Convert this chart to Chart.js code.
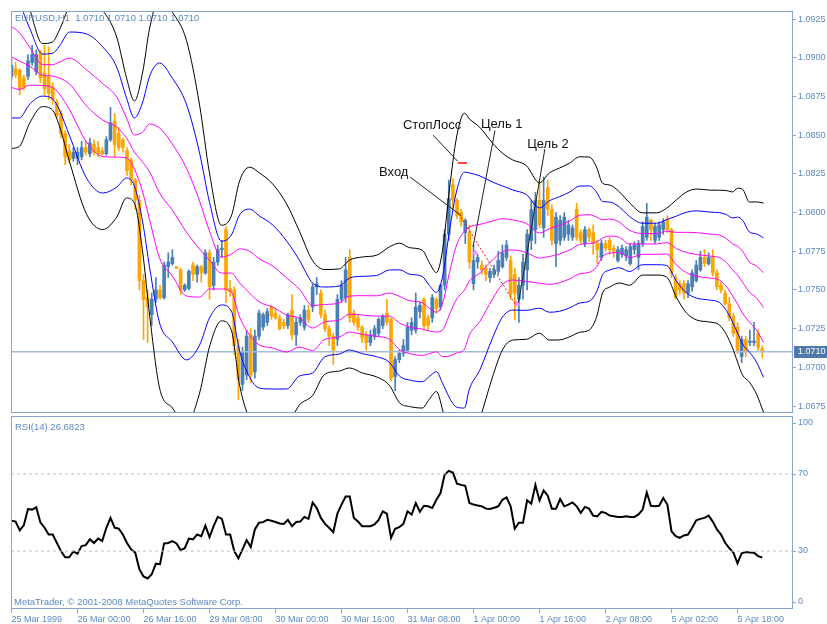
<!DOCTYPE html>
<html>
<head>
<meta charset="utf-8">
<script src="https://cdn.jsdelivr.net/npm/chart.js@4.4.0/dist/chart.umd.min.js"></script>
<style>
html, body { margin: 0; padding: 0; background: #fff; }
#wrap { position: relative; width: 827px; height: 624px; overflow: hidden; }
#main { position: absolute; left: 0; top: 0; }
#rsi { position: absolute; left: 0; top: 415px; }
</style>
</head>
<body>
<div id="wrap">
<canvas id="main" width="827" height="415"></canvas>
<canvas id="rsi" width="827" height="209"></canvas>
</div>
<script>
// EURUSD H1 candles, one per bar
const opens = [1.0888,1.0893,1.0892,1.0887,1.0888,1.0897,1.0891,1.0903,1.0890,1.0888,
1.0881,1.0871,1.0864,1.0851,1.0840,1.0835,1.0835,1.0836,1.0842,1.0838,
1.0844,1.0842,1.0840,1.0838,1.0847,1.0859,1.0851,1.0847,1.0840,1.0834,
1.0821,1.0808,1.0756,1.0745,1.0734,1.0744,1.0750,1.0745,1.0765,1.0767,
1.0765,1.0763,1.0750,1.0751,1.0766,1.0760,1.0765,1.0761,1.0774,1.0753,
1.0768,1.0776,1.0789,1.0751,1.0750,1.0714,1.0689,1.0695,1.0721,1.0697,
1.0720,1.0726,1.0729,1.0739,1.0735,1.0732,1.0729,1.0727,1.0737,1.0721,
1.0729,1.0726,1.0737,1.0739,1.0752,1.0748,1.0734,1.0725,1.0720,1.0718,
1.0744,1.0745,1.0771,1.0735,1.0732,1.0726,1.0721,1.0716,1.0720,1.0722,
1.0727,1.0735,1.0731,1.0694,1.0705,1.0709,1.0711,1.0724,1.0724,1.0736,
1.0744,1.0732,1.0732,1.0744,1.0739,1.0753,1.0786,1.0818,1.0808,1.0800,
1.0787,1.0787,1.0754,1.0768,1.0766,1.0764,1.0758,1.0760,1.0762,1.0765,
1.0771,1.0769,1.0760,1.0744,1.0753,1.0763,1.0782,1.0789,1.0808,1.0790,
1.0816,1.0802,1.0780,1.0782,1.0784,1.0786,1.0784,1.0802,1.0787,1.0780,
1.0789,1.0787,1.0780,1.0771,1.0780,1.0782,1.0777,1.0769,1.0773,1.0772,
1.0767,1.0776,1.0771,1.0780,1.0784,1.0795,1.0782,1.0784,1.0789,1.0796,
1.0789,1.0758,1.0754,1.0754,1.0748,1.0752,1.0756,1.0763,1.0771,1.0767,
1.0771,1.0761,1.0753,1.0748,1.0741,1.0733,1.0726,1.0707,1.0718,1.0716,
1.0716,1.0722,1.0712]
const highs = [1.0899,1.0897,1.0893,1.0889,1.0902,1.0908,1.0905,1.0905,1.0908,1.0907,
1.0884,1.0873,1.0866,1.0853,1.0844,1.0842,1.0842,1.0846,1.0846,1.0848,
1.0847,1.0846,1.0842,1.0849,1.0868,1.0864,1.0855,1.0848,1.0842,1.0835,
1.0822,1.0811,1.0760,1.0750,1.0748,1.0758,1.0753,1.0768,1.0774,1.0776,
1.0765,1.0764,1.0754,1.0763,1.0768,1.0766,1.0766,1.0776,1.0776,1.0771,
1.0779,1.0782,1.0791,1.0756,1.0752,1.0718,1.0713,1.0724,1.0725,1.0724,
1.0737,1.0735,1.0738,1.0740,1.0738,1.0734,1.0731,1.0735,1.0747,1.0732,
1.0734,1.0740,1.0740,1.0754,1.0758,1.0750,1.0737,1.0727,1.0722,1.0747,
1.0756,1.0771,1.0776,1.0737,1.0734,1.0727,1.0723,1.0724,1.0727,1.0732,
1.0734,1.0744,1.0732,1.0707,1.0711,1.0718,1.0729,1.0732,1.0748,1.0742,
1.0745,1.0734,1.0747,1.0745,1.0754,1.0789,1.0821,1.0822,1.0809,1.0802,
1.0796,1.0792,1.0779,1.0773,1.0769,1.0766,1.0764,1.0766,1.0775,1.0779,
1.0782,1.0772,1.0764,1.0758,1.0773,1.0789,1.0808,1.0813,1.0821,1.0823,
1.0821,1.0805,1.0800,1.0798,1.0800,1.0795,1.0792,1.0806,1.0789,1.0791,
1.0790,1.0792,1.0782,1.0782,1.0782,1.0784,1.0779,1.0778,1.0779,1.0778,
1.0780,1.0781,1.0782,1.0794,1.0806,1.0796,1.0793,1.0794,1.0796,1.0798,
1.0790,1.0760,1.0756,1.0756,1.0756,1.0763,1.0769,1.0775,1.0776,1.0774,
1.0776,1.0763,1.0755,1.0750,1.0745,1.0735,1.0729,1.0720,1.0720,1.0724,
1.0729,1.0724,1.0714]
const lows = [1.0886,1.0887,1.0876,1.0879,1.0886,1.0895,1.0889,1.0884,1.0876,1.0873,
1.0870,1.0861,1.0848,1.0831,1.0832,1.0833,1.0831,1.0834,1.0837,1.0836,
1.0837,1.0836,1.0837,1.0837,1.0846,1.0836,1.0840,1.0839,1.0824,1.0818,
1.0802,1.0750,1.0718,1.0716,1.0727,1.0742,1.0744,1.0744,1.0758,1.0766,
1.0764,1.0747,1.0749,1.0750,1.0756,1.0755,1.0755,1.0760,1.0744,1.0750,
1.0766,1.0771,1.0742,1.0746,1.0708,1.0679,1.0685,1.0692,1.0690,1.0693,
1.0718,1.0724,1.0727,1.0731,1.0731,1.0724,1.0725,1.0725,1.0718,1.0714,
1.0727,1.0724,1.0729,1.0736,1.0747,1.0732,1.0723,1.0714,1.0702,1.0714,
1.0742,1.0742,1.0729,1.0727,1.0724,1.0716,1.0711,1.0714,1.0718,1.0720,
1.0725,1.0727,1.0691,1.0685,1.0703,1.0707,1.0710,1.0721,1.0722,1.0732,
1.0724,1.0724,1.0729,1.0735,1.0737,1.0750,1.0782,1.0802,1.0796,1.0791,
1.0780,1.0764,1.0750,1.0764,1.0760,1.0756,1.0755,1.0758,1.0760,1.0764,
1.0769,1.0744,1.0731,1.0729,1.0744,1.0750,1.0776,1.0780,1.0790,1.0784,
1.0798,1.0779,1.0765,1.0779,1.0782,1.0782,1.0782,1.0782,1.0780,1.0778,
1.0781,1.0773,1.0767,1.0769,1.0775,1.0773,1.0771,1.0768,1.0771,1.0769,
1.0766,1.0773,1.0763,1.0778,1.0782,1.0782,1.0780,1.0782,1.0786,1.0787,
1.0758,1.0744,1.0747,1.0744,1.0745,1.0749,1.0755,1.0762,1.0765,1.0766,
1.0759,1.0750,1.0748,1.0740,1.0730,1.0720,1.0709,1.0703,1.0707,1.0714,
1.0714,1.0711,1.0706]
const closes = [1.0895,1.0889,1.0880,1.0881,1.0898,1.0902,1.0902,1.0887,1.0880,1.0877,
1.0873,1.0863,1.0851,1.0836,1.0834,1.0839,1.0839,1.0842,1.0839,1.0845,
1.0839,1.0838,1.0838,1.0847,1.0858,1.0844,1.0842,1.0842,1.0827,1.0821,
1.0808,1.0756,1.0744,1.0739,1.0744,1.0750,1.0745,1.0766,1.0768,1.0771,
1.0764,1.0750,1.0753,1.0762,1.0760,1.0765,1.0761,1.0774,1.0752,1.0768,
1.0776,1.0777,1.0750,1.0749,1.0714,1.0692,1.0710,1.0720,1.0695,1.0720,
1.0735,1.0734,1.0736,1.0733,1.0732,1.0725,1.0727,1.0734,1.0721,1.0729,
1.0732,1.0737,1.0731,1.0752,1.0754,1.0734,1.0725,1.0720,1.0711,1.0744,
1.0753,1.0763,1.0732,1.0729,1.0726,1.0719,1.0716,1.0721,1.0725,1.0731,
1.0733,1.0729,1.0693,1.0705,1.0709,1.0714,1.0726,1.0729,1.0739,1.0740,
1.0727,1.0727,1.0745,1.0738,1.0753,1.0786,1.0809,1.0808,1.0798,1.0794,
1.0795,1.0768,1.0769,1.0771,1.0763,1.0760,1.0762,1.0763,1.0769,1.0774,
1.0779,1.0747,1.0748,1.0753,1.0768,1.0786,1.0802,1.0808,1.0792,1.0808,
1.0802,1.0782,1.0797,1.0795,1.0797,1.0792,1.0790,1.0784,1.0782,1.0789,
1.0784,1.0780,1.0776,1.0780,1.0777,1.0776,1.0775,1.0776,1.0777,1.0776,
1.0778,1.0779,1.0780,1.0791,1.0797,1.0789,1.0791,1.0792,1.0794,1.0789,
1.0761,1.0745,1.0750,1.0748,1.0754,1.0761,1.0766,1.0771,1.0767,1.0771,
1.0761,1.0752,1.0750,1.0741,1.0732,1.0722,1.0711,1.0718,1.0710,1.0717,
1.0717,1.0713,1.0710]

// Bollinger bands: bar position, middle line, one deviation
const bandBar = [0,1.9,4.4,7.5,9.9,11.6,14.1,18.2,22.1,25.5,27.9,29.8,31.8,33.5,35.9,39.0,42.4,45.6,48.0,50.9,
53.3,55.3,57.7,60.1,63.3,66.7,69.8,73.0,75.9,79.5,81.9,85.1,88.5,91.6,94.1,96.5,99.6,101.3,103.0,104.5,
106.2,107.9,109.8,111.0,113.5,116.6,119.0,121.5,124.8,128.0,130.4,132.8,135.3,137.7,140.1,141.8,143.3,145.0,147.4,149.8,
153.0,156.4,158.8,161.2,163.6,166.1,169.2,171.6,173.3,174.8,176.0,177.2,178.9,180.6,182.3]
const bandMid = [1.09005,1.08979,1.08946,1.08888,1.08882,1.08869,1.08830,1.08688,1.08598,1.08552,
1.08481,1.08391,1.08326,1.08262,1.08126,1.08016,1.07874,1.07764,1.07693,1.07609,
1.07609,1.07545,1.07480,1.07422,1.07390,1.07338,1.07318,1.07254,1.07293,1.07306,
1.07344,1.07338,1.07331,1.07331,1.07286,1.07260,1.07247,1.07235,1.07228,1.07241,
1.07344,1.07441,1.07499,1.07558,1.07609,1.07693,1.07748,1.07758,1.07742,1.07706,
1.07716,1.07732,1.07758,1.07793,1.07800,1.07809,1.07835,1.07848,1.07839,1.07797,
1.07797,1.07797,1.07806,1.07767,1.07742,1.07729,1.07719,1.07709,1.07677,1.07629,
1.07596,1.07551,1.07486,1.07448,1.07386]
const bandDev = [0.00197,0.00184,0.00123,0.00068,0.00073,0.00103,0.00168,0.00233,0.00236,0.00194,
0.00129,0.00110,0.00194,0.00310,0.00420,0.00426,0.00413,0.00310,0.00187,0.00103,
0.00123,0.00220,0.00271,0.00278,0.00265,0.00239,0.00187,0.00145,0.00113,0.00110,
0.00116,0.00125,0.00131,0.00149,0.00172,0.00171,0.00170,0.00147,0.00128,0.00172,
0.00271,0.00349,0.00381,0.00349,0.00314,0.00252,0.00212,0.00194,0.00187,0.00162,
0.00180,0.00185,0.00187,0.00189,0.00186,0.00162,0.00118,0.00110,0.00098,0.00089,
0.00067,0.00067,0.00074,0.00105,0.00130,0.00141,0.00142,0.00145,0.00155,0.00168,
0.00187,0.00200,0.00194,0.00207,0.00225]
const bandMult = [3, 2, 1, 0, -1, -2, -3]
const bandColor = ['#000000', '#0000ff', '#ff00ff', '#ff00ff', '#ff00ff', '#0000ff', '#000000']

// RSI(14), one per bar
const rsi = [45.8,45.3,40.7,43.5,51.8,51.5,52.7,44.9,42.2,38.6,
38.6,34.2,30.0,26.8,26.8,29.8,28.7,32.6,33.1,36.1,
34.2,36.5,35.2,42.1,47.2,42.1,41.6,38.6,34.2,30.9,
29.2,20.6,16.9,15.8,18.0,23.5,23.2,34.0,34.2,35.2,
34.0,30.5,31.5,36.5,36.1,38.6,37.7,43.2,37.2,42.9,
47.7,46.7,38.6,38.6,30.0,26.3,30.9,35.7,32.1,41.2,
44.7,45.0,46.2,45.7,45.1,44.3,44.1,46.2,42.9,45.1,
45.3,47.7,46.7,55.2,52.3,47.2,44.1,42.1,39.8,49.4,
54.1,58.3,58.3,47.2,45.3,42.9,42.9,42.9,43.8,46.2,
50.6,49.4,36.9,41.6,42.4,44.1,50.6,48.9,54.9,50.4,
53.5,53.2,52.3,56.6,60.1,69.5,71.6,70.7,64.9,64.3,
63.8,54.9,54.1,53.6,53.2,52.0,51.8,52.5,53.2,56.6,
57.8,53.2,41.6,44.7,44.7,56.3,54.6,64.3,56.3,61.4,
58.7,52.0,52.0,57.0,53.2,54.1,55.2,53.2,49.8,52.9,
52.0,48.4,48.0,50.3,49.8,48.4,48.1,47.7,47.7,48.0,
47.7,47.7,49.0,51.5,60.4,53.5,53.2,53.5,57.5,54.1,
40.3,37.7,36.9,38.1,38.6,42.1,46.0,46.7,47.2,48.4,
45.3,41.2,38.6,34.3,31.5,29.2,23.7,28.8,29.5,29.3,
29.2,27.4,26.7]
const rsiLevels = [30, 70]
const rsiTicks = [0, 30, 70, 100]

const priceTicks = [1.0675, 1.0700, 1.0725, 1.0750, 1.0775, 1.0800, 1.0825, 1.0850, 1.0875, 1.0900, 1.0925]
const timeBars = [0, 16, 32, 48, 64, 80, 96, 112, 128, 144, 160, 176]
const timeLabels = ['25 Mar 1999', '26 Mar 00:00', '26 Mar 16:00', '29 Mar 08:00', '30 Mar 00:00', '30 Mar 16:00',
  '31 Mar 08:00', '1 Apr 00:00', '1 Apr 16:00', '2 Apr 08:00', '5 Apr 02:00', '5 Apr 18:00']

// hand drawn marks on the chart
const noteText = ['СтопЛосс', 'Вход', 'Цель 1', 'Цель 2']
const noteBar = [94.9, 89.1, 113.8, 125.0]
const notePrice = [1.0856, 1.0826, 1.0857, 1.0844]
const pointerBar = [[102.2, 108.2], [96.6, 109.0], [117.2, 111.9], [129.3, 122.8]]
const pointerPrice = [[1.0850, 1.0833], [1.0823, 1.0798], [1.0853, 1.0778], [1.0841, 1.0740]]
const tradeBar = [109.0, 122.3]
const tradePrice = [1.0797, 1.0740]
const stopBar = [108.2, 110.4]
const stopPrice = 1.0832
const hitBar = [112.4, 122.5]
const hitPrice = [1.0774, 1.0741]

const xMin = -0.12, xMax = 189.45
const axisColor = '#86a6cf'
const textColor = '#5d89c2'
const upColor = '#4a7fb5'
const downColor = '#ffa500'
const fontFamily = "'Liberation Sans', Arial, sans-serif"
const last = closes.length - 1

Chart.defaults.font.family = fontFamily
Chart.defaults.font.size = 9
Chart.defaults.color = textColor

const isUp = i => closes[i] >= opens[i]
const candleColor = ctx => isUp(ctx.dataIndex) ? upColor : downColor

const mainDatasets = [
  {
    type: 'bar', data: opens.map((o, i) => ({x: i, y: [lows[i], highs[i]]})),
    backgroundColor: candleColor, barThickness: 1, grouped: false, order: 20
  },
  {
    type: 'bar', data: opens.map((o, i) => ({x: i, y: [o, closes[i]]})),
    backgroundColor: candleColor, barThickness: 3, minBarLength: 1, grouped: false, order: 19
  },
  {
    type: 'line', data: [{x: xMin, y: closes[last]}, {x: xMax, y: closes[last]}],
    borderColor: '#a3bcda', borderWidth: 1.5, pointRadius: 0, order: 18
  }
]
bandMult.forEach((k, j) => {
  mainDatasets.push({
    type: 'line',
    data: bandBar.map((b, n) => ({x: b, y: bandMid[n] + k * bandDev[n]})),
    borderColor: bandColor[j], borderWidth: 1, pointRadius: 0,
    cubicInterpolationMode: 'monotone', order: 5
  })
})
pointerBar.forEach((b, j) => {
  mainDatasets.push({
    type: 'line',
    data: [{x: b[0], y: pointerPrice[j][0]}, {x: b[1], y: pointerPrice[j][1]}],
    borderColor: '#222', borderWidth: 1, pointRadius: 0, order: 2
  })
})
mainDatasets.push({
  type: 'line', data: tradeBar.map((b, n) => ({x: b, y: tradePrice[n]})),
  borderColor: '#ff0000', borderWidth: 1, borderDash: [2, 2], pointRadius: 0, order: 1
})
mainDatasets.push({
  type: 'line', data: stopBar.map(b => ({x: b, y: stopPrice})),
  borderColor: '#ff0000', borderWidth: 1.5, pointRadius: 0, order: 1
})
mainDatasets.push({
  type: 'line', data: hitBar.map((b, n) => ({x: b, y: hitPrice[n]})), showLine: false,
  pointStyle: 'triangle', pointRadius: 3, pointBackgroundColor: '#ff8cff', pointBorderColor: '#ff8cff', order: 1
})

const frame = {
  id: 'frame',
  afterDraw(chart) {
    const {ctx, chartArea: a} = chart
    ctx.save()
    ctx.strokeStyle = axisColor
    ctx.lineWidth = 1
    ctx.strokeRect(a.left + 0.5, a.top + 0.5, a.right - a.left - 1, a.bottom - a.top - 1)
    ctx.restore()
  }
}

const mainText = {
  id: 'mainText',
  afterDraw(chart) {
    const {ctx, scales: {x, y}} = chart
    ctx.save()
    ctx.textBaseline = 'middle'
    ctx.textAlign = 'left'
    ctx.font = '13px ' + fontFamily
    ctx.fillStyle = '#111'
    noteText.forEach((t, j) => ctx.fillText(t, x.getPixelForValue(noteBar[j]), y.getPixelForValue(notePrice[j])))
    ctx.font = '9.5px ' + fontFamily
    ctx.fillStyle = textColor
    ctx.fillText('EURUSD,H1  1.0710 1.0710 1.0710 1.0710', 15, 18)
    // current price box on the right axis
    const py = Math.round(y.getPixelForValue(closes[last]))
    ctx.fillStyle = '#4f79a9'
    ctx.fillRect(794, py - 6, 33, 12)
    ctx.fillStyle = '#ffffff'
    ctx.font = '9px ' + fontFamily
    ctx.fillText(closes[last].toFixed(4), 798, py)
    ctx.restore()
  }
}

new Chart(document.getElementById('main'), {
  type: 'bar',
  data: {datasets: mainDatasets},
  options: {
    responsive: false, animation: false, events: [],
    layout: {autoPadding: false, padding: {left: 11, top: 11, right: 0, bottom: 2}},
    plugins: {legend: {display: false}, tooltip: {enabled: false}},
    scales: {
      x: {
        type: 'linear', min: xMin, max: xMax, offset: false, display: false,
        ticks: {display: false}, grid: {display: false},
        afterFit: s => { s.height = 0; s.paddingLeft = 0; s.paddingRight = 0 }
      },
      y: {
        type: 'linear', position: 'right', min: 1.06705, max: 1.09302,
        afterBuildTicks: s => { s.ticks = priceTicks.map(v => ({value: v})) },
        afterFit: s => { s.width = 34; s.paddingTop = 0; s.paddingBottom = 0 },
        ticks: {callback: v => v.toFixed(4), padding: 2, color: textColor},
        grid: {drawOnChartArea: false, tickLength: 3, color: axisColor},
        border: {display: false}
      }
    }
  },
  plugins: [frame, mainText]
})

const rsiText = {
  id: 'rsiText',
  afterDraw(chart) {
    const {ctx, chartArea: a, scales: {y}} = chart
    ctx.save()
    ctx.textBaseline = 'middle'
    ctx.textAlign = 'left'
    ctx.font = '9.5px ' + fontFamily
    ctx.fillStyle = textColor
    ctx.fillText('RSI(14) 26.6823', 15, 12)
    ctx.fillText('MetaTrader, © 2001-2008 MetaQuotes Software Corp.', 14, 187)
    // level labels on the right, kept inside the panel
    ctx.font = '9px ' + fontFamily
    ctx.strokeStyle = axisColor
    ctx.lineWidth = 1
    rsiTicks.forEach(v => {
      const py = Math.round(Math.min(Math.max(y.getPixelForValue(v), a.top + 7), a.bottom - 7))
      ctx.beginPath()
      ctx.moveTo(a.right, py + 0.5)
      ctx.lineTo(a.right + 3, py + 0.5)
      ctx.stroke()
      ctx.fillText(String(v), a.right + 5, py)
    })
    ctx.restore()
  }
}

const rsiDatasets = rsiLevels.map(v => ({
  type: 'line', data: [{x: xMin, y: v}, {x: xMax, y: v}],
  borderColor: '#c4c4c4', borderWidth: 1, borderDash: [3, 3], pointRadius: 0
}))
rsiDatasets.push({
  type: 'line', data: rsi.map((v, i) => ({x: i, y: v})),
  borderColor: '#000000', borderWidth: 2, pointRadius: 0, tension: 0
})

new Chart(document.getElementById('rsi'), {
  type: 'line',
  data: {datasets: rsiDatasets},
  options: {
    responsive: false, animation: false, events: [],
    layout: {autoPadding: false, padding: {left: 11, top: 1, right: 0, bottom: 0}},
    plugins: {legend: {display: false}, tooltip: {enabled: false}},
    scales: {
      x: {
        type: 'linear', min: xMin, max: xMax, offset: false,
        afterBuildTicks: s => { s.ticks = timeBars.map(v => ({value: v})) },
        afterFit: s => { s.height = 15 },
        ticks: {callback: (v, i) => timeLabels[i], align: 'start', autoSkip: false, maxRotation: 0, minRotation: 0, padding: 1, color: textColor},
        grid: {drawOnChartArea: false, tickLength: 4, color: axisColor},
        border: {display: false}
      },
      y: {
        type: 'linear', position: 'right', min: 0, max: 100,
        ticks: {display: false}, grid: {display: false}, border: {display: false},
        afterFit: s => { s.width = 34; s.paddingTop = 0; s.paddingBottom = 0 }
      }
    }
  },
  plugins: [frame, rsiText]
})
</script>
</body>
</html>
